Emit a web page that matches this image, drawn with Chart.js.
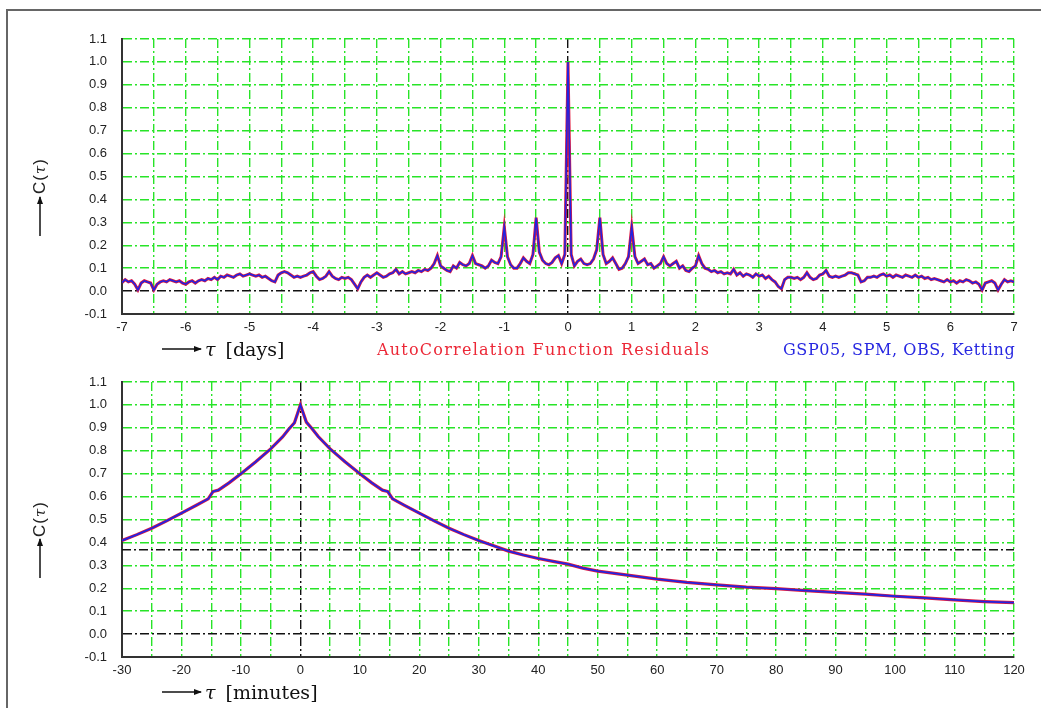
<!DOCTYPE html>
<html><head><meta charset="utf-8">
<script src="https://cdn.jsdelivr.net/npm/chart.js@4/dist/chart.umd.min.js"></script>
<style>
html,body{margin:0;padding:0;background:#fff;width:1041px;height:708px;overflow:hidden;position:relative;font-family:"Liberation Sans",Arial,sans-serif}
#frame{position:absolute;left:6px;top:9px;width:1100px;height:800px;border-left:2px solid #666;border-top:2px solid #666;box-sizing:border-box}
canvas{position:absolute;left:0}
#c1{top:0}
#c2{top:355px}
.ylab{position:absolute;font-family:"Liberation Sans",Arial,sans-serif;font-size:17px;color:#222;white-space:nowrap;transform-origin:center center;letter-spacing:1px}
.ylab i{font-family:"DejaVu Serif",serif;font-style:italic;font-size:15px}
.xlab{position:absolute;font-family:"DejaVu Serif",serif;font-size:19px;color:#111;white-space:nowrap;transform:translateY(-50%)}
.xlab i{font-style:italic;margin-right:10px}
.fit{position:absolute;font-family:"DejaVu Serif",serif;font-size:16px;white-space:nowrap;transform:translateY(-50%)}
svg{position:absolute;left:0;top:0}
</style></head>
<body>
<div id="frame"></div>
<canvas id="c1" width="1041" height="342"></canvas>
<canvas id="c2" width="1041" height="330"></canvas>
<svg width="1041" height="708">
  <defs><marker id="ah" markerWidth="8" markerHeight="6" refX="7" refY="3" orient="auto" markerUnits="userSpaceOnUse"><path d="M0,0 L8,3 L0,6 z" fill="#111"/></marker></defs>
  <line x1="40" y1="236" x2="40" y2="197" stroke="#111" stroke-width="1.5" marker-end="url(#ah)"/>
  <line x1="40" y1="578" x2="40" y2="539" stroke="#111" stroke-width="1.5" marker-end="url(#ah)"/>
  <line x1="162" y1="349" x2="201" y2="349" stroke="#111" stroke-width="1.5" marker-end="url(#ah)"/>
  <line x1="162" y1="692" x2="201" y2="692" stroke="#111" stroke-width="1.5" marker-end="url(#ah)"/>
</svg>
<div class="ylab" id="yl1">C(<i>τ</i>)</div>
<div class="ylab" id="yl2">C(<i>τ</i>)</div>
<div class="xlab" style="left:205px;top:349px"><i>τ</i>[days]</div>
<div class="xlab" style="left:205px;top:692px"><i>τ</i>[minutes]</div>
<div class="fit" id="t1" data-w="333" style="left:377px;top:349px;color:rgb(236,40,55)">AutoCorrelation Function Residuals</div>
<div class="fit" id="t2" data-w="232" style="left:783px;top:349px;color:rgb(40,40,225)">GSP05, SPM, OBS, Ketting</div>
<script>
// ---------- DATA ----------
const tauDays = [
-7,-6.95,-6.9,-6.85,-6.8,-6.75,-6.7,-6.65,-6.6,-6.55,-6.5,-6.45,-6.4,-6.35,-6.3,-6.25,-6.2,-6.15,-6.1,-6.05,
-6,-5.95,-5.9,-5.85,-5.8,-5.75,-5.7,-5.65,-5.6,-5.55,-5.5,-5.45,-5.4,-5.35,-5.3,-5.25,-5.2,-5.15,-5.1,-5.05,
-5,-4.95,-4.9,-4.85,-4.8,-4.75,-4.7,-4.65,-4.6,-4.55,-4.5,-4.45,-4.4,-4.35,-4.3,-4.25,-4.2,-4.15,-4.1,-4.05,
-4,-3.95,-3.9,-3.85,-3.8,-3.75,-3.7,-3.65,-3.6,-3.55,-3.5,-3.45,-3.4,-3.35,-3.3,-3.25,-3.2,-3.15,-3.1,-3.05,
-3,-2.95,-2.9,-2.85,-2.8,-2.75,-2.7,-2.65,-2.6,-2.55,-2.5,-2.45,-2.4,-2.35,-2.3,-2.25,-2.2,-2.15,-2.1,-2.05,
-2,-1.95,-1.9,-1.85,-1.8,-1.75,-1.7,-1.65,-1.6,-1.55,-1.5,-1.45,-1.4,-1.35,-1.3,-1.25,-1.2,-1.15,-1.1,-1.05,
-1,-0.95,-0.9,-0.85,-0.8,-0.75,-0.7,-0.65,-0.6,-0.55,-0.5,-0.45,-0.4,-0.35,-0.3,-0.25,-0.2,-0.15,-0.1,-0.05,
0,0.05,0.1,0.15,0.2,0.25,0.3,0.35,0.4,0.45,0.5,0.55,0.6,0.65,0.7,0.75,0.8,0.85,0.9,0.95,
1,1.05,1.1,1.15,1.2,1.25,1.3,1.35,1.4,1.45,1.5,1.55,1.6,1.65,1.7,1.75,1.8,1.85,1.9,1.95,
2,2.05,2.1,2.15,2.2,2.25,2.3,2.35,2.4,2.45,2.5,2.55,2.6,2.65,2.7,2.75,2.8,2.85,2.9,2.95,
3,3.05,3.1,3.15,3.2,3.25,3.3,3.35,3.4,3.45,3.5,3.55,3.6,3.65,3.7,3.75,3.8,3.85,3.9,3.95,
4,4.05,4.1,4.15,4.2,4.25,4.3,4.35,4.4,4.45,4.5,4.55,4.6,4.65,4.7,4.75,4.8,4.85,4.9,4.95,
5,5.05,5.1,5.15,5.2,5.25,5.3,5.35,5.4,5.45,5.5,5.55,5.6,5.65,5.7,5.75,5.8,5.85,5.9,5.95,
6,6.05,6.1,6.15,6.2,6.25,6.3,6.35,6.4,6.45,6.5,6.55,6.6,6.65,6.7,6.75,6.8,6.85,6.9,6.95,7
];
const acfDays = [
0.037,0.05,0.04,0.045,0.03,0.005,0.035,0.045,0.04,0.035,0.005,0.03,0.04,0.045,0.04,0.05,0.045,0.04,0.045,0.035,
0.03,0.04,0.045,0.035,0.045,0.05,0.045,0.055,0.05,0.06,0.05,0.065,0.06,0.07,0.065,0.06,0.07,0.075,0.065,0.07,
0.075,0.07,0.065,0.07,0.06,0.065,0.055,0.045,0.04,0.07,0.08,0.085,0.08,0.07,0.06,0.065,0.06,0.065,0.07,0.08,
0.085,0.065,0.05,0.055,0.065,0.085,0.065,0.055,0.05,0.06,0.055,0.06,0.05,0.03,0.01,0.04,0.06,0.07,0.06,0.07,
0.08,0.07,0.06,0.065,0.075,0.08,0.095,0.075,0.085,0.075,0.08,0.085,0.08,0.09,0.085,0.095,0.09,0.10,0.12,0.155,
0.11,0.10,0.09,0.085,0.11,0.10,0.125,0.115,0.11,0.12,0.155,0.12,0.115,0.11,0.10,0.11,0.135,0.125,0.12,0.15,
0.28,0.15,0.115,0.10,0.10,0.12,0.145,0.13,0.12,0.16,0.32,0.17,0.135,0.12,0.115,0.125,0.145,0.155,0.12,0.16,
1.00,0.16,0.11,0.13,0.14,0.12,0.115,0.12,0.14,0.18,0.32,0.16,0.12,0.13,0.145,0.12,0.095,0.10,0.12,0.15,
0.28,0.15,0.12,0.13,0.14,0.115,0.12,0.10,0.11,0.12,0.15,0.12,0.11,0.12,0.13,0.10,0.11,0.09,0.085,0.10,
0.11,0.155,0.12,0.10,0.095,0.085,0.09,0.08,0.085,0.075,0.08,0.075,0.095,0.07,0.08,0.065,0.075,0.07,0.06,0.075,
0.065,0.07,0.055,0.065,0.05,0.04,0.02,0.01,0.05,0.06,0.06,0.055,0.06,0.05,0.06,0.08,0.06,0.05,0.055,0.07,
0.075,0.09,0.065,0.06,0.065,0.06,0.065,0.07,0.08,0.08,0.075,0.07,0.04,0.045,0.06,0.06,0.065,0.06,0.07,0.075,
0.065,0.07,0.06,0.07,0.065,0.06,0.07,0.065,0.06,0.07,0.06,0.065,0.055,0.06,0.05,0.055,0.05,0.045,0.04,0.05,
0.04,0.045,0.035,0.045,0.04,0.05,0.045,0.035,0.04,0.03,0.005,0.035,0.04,0.045,0.035,0.005,0.03,0.05,0.04,0.045,0.04
];
const tauMinutes = [-30,-27.5,-25,-22.5,-20,-17.5,-15.5,-14.7,-13.8,-12,-10,-7.5,-5,-3,-2,-1,0,1,2,3,5,7.5,10,12,13.8,14.7,15.5,17.5,20,22.5,25,27.5,30,32.5,35,37.5,40,42.5,45,47.5,50,55,60,65,70,75,80,85,90,95,100,105,110,115,120];
const acfMinutes = [0.408,0.434,0.462,0.494,0.528,0.562,0.59,0.622,0.628,0.66,0.70,0.752,0.808,0.86,0.893,0.922,1.0,0.925,0.895,0.862,0.808,0.752,0.70,0.66,0.628,0.622,0.59,0.562,0.528,0.494,0.462,0.434,0.408,0.385,0.362,0.345,0.33,0.317,0.305,0.288,0.275,0.257,0.24,0.226,0.215,0.205,0.198,0.19,0.182,0.174,0.165,0.158,0.149,0.142,0.137];
const yRange = [-0.1, 1.1];
const dayRange = [-7, 7];
const minuteRange = [-30, 120];
const refLevelsMinutes = [0.368];

// ---------- STYLE ----------
const GREEN = 'rgb(40,228,40)';
const DASH = [9,3,2,3];
const RED = 'rgb(225,25,60)';
const BLUE = 'rgb(35,35,225)';

const refLine = {
  id: 'refLine',
  beforeDatasetsDraw(chart, args, opts) {
    if (!opts.values) return;
    const {ctx, chartArea, scales} = chart;
    opts.values.forEach(v => {
      const py = scales.y.getPixelForValue(v);
      ctx.save();
      ctx.strokeStyle = '#111'; ctx.lineWidth = 1.3; ctx.setLineDash(DASH);
      ctx.beginPath(); ctx.moveTo(chartArea.left, py); ctx.lineTo(chartArea.right, py); ctx.stroke();
      ctx.restore();
    });
  }
};

function gridColor(ctx) { return (ctx.tick && Math.abs(ctx.tick.value) < 1e-9) ? '#111' : GREEN; }

function makeChart(id, xs, ys, xr, xStep, xLabelStep, refs, width) {
  const pts = () => xs.map((x, i) => ({x, y: ys[i]}));
  return new Chart(document.getElementById(id), {
    type: 'line',
    data: { datasets: [
      { data: pts(), borderColor: RED, borderWidth: width[0], pointRadius: 0, tension: 0, order: 2 },
      { data: pts(), borderColor: BLUE, borderWidth: width[1], pointRadius: 0, tension: 0, order: 1 }
    ]},
    options: {
      responsive: false, animation: false, devicePixelRatio: 1,
      layout: { padding: { left: 62, right: 27, top: id === 'c1' ? 39 : 27, bottom: 0 } },
      plugins: { legend: { display: false }, tooltip: { enabled: false }, refLine: { values: refs } },
      scales: {
        x: {
          type: 'linear', min: xr[0], max: xr[1],
          afterFit: s => { s.height = 28; },
          ticks: { stepSize: xStep, autoSkip: false, maxRotation: 0, padding: 6, color: '#222',
                   font: { family: '"Liberation Sans", Arial, sans-serif', size: 13 },
                   callback: v => (Math.abs(v / xLabelStep - Math.round(v / xLabelStep)) < 1e-6 ? String(Math.round(v)) : '') },
          grid: { color: gridColor, lineWidth: 1.4, drawTicks: false },
          border: { display: true, color: '#333', width: 2, dash: DASH }
        },
        y: {
          min: yRange[0], max: yRange[1],
          afterFit: s => { s.width = 60; },
          ticks: { stepSize: 0.1, padding: 15, color: '#222',
                   font: { family: '"Liberation Sans", Arial, sans-serif', size: 13 },
                   callback: v => v.toFixed(1) },
          grid: { color: gridColor, lineWidth: 1.4, drawTicks: false },
          border: { display: true, color: '#333', width: 2, dash: DASH }
        }
      }
    },
    plugins: [refLine]
  });
}

makeChart('c1', tauDays, acfDays, dayRange, 0.5, 1, [], [3, 1.6]);
makeChart('c2', tauMinutes, acfMinutes, minuteRange, 5, 10, refLevelsMinutes, [3.2, 1.8]);

// y labels rotated
function placeY(id, cx, cy) {
  const el = document.getElementById(id);
  const w = el.offsetWidth, h = el.offsetHeight;
  el.style.left = (cx - w / 2) + 'px';
  el.style.top = (cy - h / 2) + 'px';
  el.style.transform = 'rotate(-90deg)';
}
placeY('yl1', 40, 176);
placeY('yl2', 40, 519);

// fit colored texts to their widths
document.querySelectorAll('.fit').forEach(el => {
  const target = +el.dataset.w;
  const n = el.textContent.length;
  const w = el.offsetWidth;
  el.style.letterSpacing = ((target - w) / n) + 'px';
});
</script>
</body></html>
